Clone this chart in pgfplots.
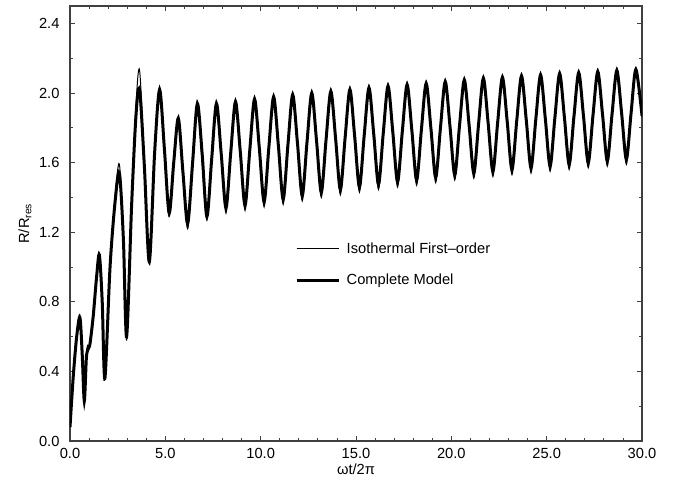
\documentclass[border=0pt]{standalone}
\usepackage{pgfplots}
\pgfplotsset{compat=1.18}
\usepackage{fontspec}
\setmainfont{Liberation Sans}
\begin{document}
\begin{tikzpicture}
\useasboundingbox (-52.5pt,-34.5pt) rectangle (456.75pt,330.75pt);
\begin{axis}[
  at={(0pt,0pt)}, anchor=south west,
  scale only axis, width=429pt, height=326.25pt,
  xmin=0, xmax=30, ymin=0, ymax=2.5,
  xtick={0,5,...,30}, ytick={0,0.4,...,2.4},
  minor x tick num=4, minor y tick num=1,
  tick align=inside, major tick length=3.75pt, minor tick length=2.25pt,
  axis line style={black!75, line width=0.8pt},
  every tick/.style={black!75, line width=0.6pt},
  /pgf/number format/assume math mode=true,
  /pgf/number format/.cd, fixed, fixed zerofill, precision=1, /pgfplots/.cd,
  tick label style={font=\fontsize{11}{13}\selectfont},
  yticklabel style={xshift=-4.4pt},
  xticklabel style={yshift=-2.2pt},
  xlabel={ωt/2π}, ylabel={R/R\textsubscript{res}},
  every axis x label/.style={at={(axis description cs:0.5,-0.064)}, anchor=center, font=\fontsize{11}{13}\selectfont},
  every axis y label/.style={at={(axis description cs:-0.0787,0.5)}, anchor=center, rotate=90, font=\fontsize{11}{13}\selectfont},
  legend style={draw=none, fill=none, at={(0.393,0.463)}, anchor=north west, inner sep=0pt, row sep=10pt, font=\fontsize{11}{13}\selectfont},
  legend cell align=left,
  legend image code/.code={\draw[#1] (0pt,0pt) -- (31.5pt,0pt);},
  legend style={nodes={inner xsep=5pt}},
]
\addplot[black, line width=0.75pt, smooth, tension=0.5] coordinates {
(0,0.08) (0.17,0.37) (0.35,0.61) (0.52,0.725) (0.64,0.49) (0.75,0.22) (0.86,0.50) (0.93,0.55) (0.98,0.53) (1.05,0.56) (1.22,0.72) (1.40,0.96) (1.54,1.08) (1.69,0.80) (1.83,0.35) (2.10,1.00) (2.36,1.40) (2.59,1.59) (2.80,1.17) (2.97,0.58) (3.23,1.36) (3.46,1.93) (3.65,2.13) (3.90,1.60) (4.16,1.02) (4.44,1.66) (4.70,2.03) (4.95,1.67) (5.20,1.29) (5.44,1.58) (5.68,1.86) (5.92,1.53) (6.17,1.22) (6.43,1.58) (6.68,1.95) (6.93,1.60) (7.18,1.27) (7.43,1.61) (7.68,1.95) (7.93,1.64)
(8.18,1.31) (8.43,1.647) (8.68,1.962) (8.93,1.654)
(9.18,1.325) (9.43,1.662) (9.68,1.977) (9.93,1.672)
(10.18,1.345) (10.43,1.679) (10.68,1.99) (10.93,1.686)
(11.18,1.36) (11.43,1.692) (11.68,2.002) (11.93,1.702)
(12.18,1.38) (12.43,1.707) (12.68,2.012) (12.93,1.716)
(13.18,1.40) (13.43,1.722) (13.68,2.022) (13.93,1.729)
(14.18,1.415) (14.43,1.734) (14.68,2.032) (14.93,1.741)
(15.18,1.43) (15.43,1.746) (15.68,2.042) (15.93,1.754)
(16.18,1.445) (16.43,1.759) (16.68,2.052) (16.93,1.766)
(17.18,1.46) (17.43,1.770) (17.68,2.06) (17.93,1.775)
(18.18,1.47) (18.43,1.779) (18.68,2.067) (18.93,1.786)
(19.18,1.485) (19.43,1.791) (19.68,2.077) (19.93,1.798)
(20.18,1.50) (20.43,1.803) (20.68,2.087) (20.93,1.808)
(21.18,1.51) (21.43,1.813) (21.68,2.097) (21.93,1.818)
(22.18,1.52) (22.43,1.821) (22.68,2.102) (22.93,1.826)
(23.18,1.53) (23.43,1.830) (23.68,2.11) (23.93,1.835)
(24.18,1.54) (24.43,1.838) (24.68,2.116) (24.93,1.842)
(25.18,1.55) (25.43,1.847) (25.68,2.124) (25.93,1.851)
(26.18,1.56) (26.43,1.854) (26.68,2.129) (26.93,1.859)
(27.18,1.57) (27.43,1.862) (27.68,2.135) (27.93,1.867)
(28.18,1.58) (28.43,1.870) (28.68,2.142) (28.93,1.875)
(29.18,1.59) (29.43,1.878) (29.68,2.147) (30.0,1.86)
};
\addlegendentry{Isothermal First--order}
\addplot[black, line width=2.25pt, smooth, tension=0.5] coordinates {
(0,0.08) (0.17,0.37) (0.35,0.60) (0.52,0.71) (0.64,0.50) (0.75,0.23) (0.86,0.48) (0.96,0.53) (1.05,0.56) (1.22,0.72) (1.40,0.95) (1.54,1.07) (1.69,0.80) (1.83,0.36) (2.10,1.00) (2.36,1.37) (2.59,1.54) (2.80,1.16) (2.97,0.60) (3.23,1.35) (3.46,1.87) (3.65,2.02) (3.90,1.58) (4.16,1.03) (4.44,1.66) (4.70,2.02) (4.95,1.68) (5.20,1.31) (5.44,1.60) (5.68,1.855) (5.92,1.55) (6.17,1.25) (6.43,1.60) (6.68,1.94) (6.93,1.652) (7.18,1.29) (7.43,1.62) (7.68,1.94) (7.93,1.652)
(8.18,1.34) (8.43,1.657) (8.68,1.95) (8.93,1.664)
(9.18,1.355) (9.43,1.672) (9.68,1.965) (9.93,1.682)
(10.18,1.375) (10.43,1.689) (10.68,1.978) (10.93,1.696)
(11.18,1.39) (11.43,1.702) (11.68,1.99) (11.93,1.712)
(12.18,1.41) (12.43,1.717) (12.68,2.00) (12.93,1.726)
(13.18,1.43) (13.43,1.732) (13.68,2.01) (13.93,1.739)
(14.18,1.445) (14.43,1.744) (14.68,2.02) (14.93,1.751)
(15.18,1.46) (15.43,1.756) (15.68,2.03) (15.93,1.764)
(16.18,1.475) (16.43,1.769) (16.68,2.04) (16.93,1.776)
(17.18,1.49) (17.43,1.780) (17.68,2.048) (17.93,1.785)
(18.18,1.50) (18.43,1.789) (18.68,2.055) (18.93,1.796)
(19.18,1.515) (19.43,1.801) (19.68,2.065) (19.93,1.808)
(20.18,1.53) (20.43,1.813) (20.68,2.075) (20.93,1.818)
(21.18,1.54) (21.43,1.823) (21.68,2.085) (21.93,1.828)
(22.18,1.55) (22.43,1.831) (22.68,2.09) (22.93,1.836)
(23.18,1.56) (23.43,1.840) (23.68,2.098) (23.93,1.845)
(24.18,1.57) (24.43,1.848) (24.68,2.104) (24.93,1.852)
(25.18,1.58) (25.43,1.857) (25.68,2.112) (25.93,1.861)
(26.18,1.59) (26.43,1.864) (26.68,2.117) (26.93,1.869)
(27.18,1.60) (27.43,1.872) (27.68,2.123) (27.93,1.877)
(28.18,1.61) (28.43,1.880) (28.68,2.13) (28.93,1.885)
(29.18,1.62) (29.43,1.888) (29.68,2.135) (30.0,1.87)
};
\addlegendentry{Complete Model}
\end{axis}
\end{tikzpicture}
\end{document}
